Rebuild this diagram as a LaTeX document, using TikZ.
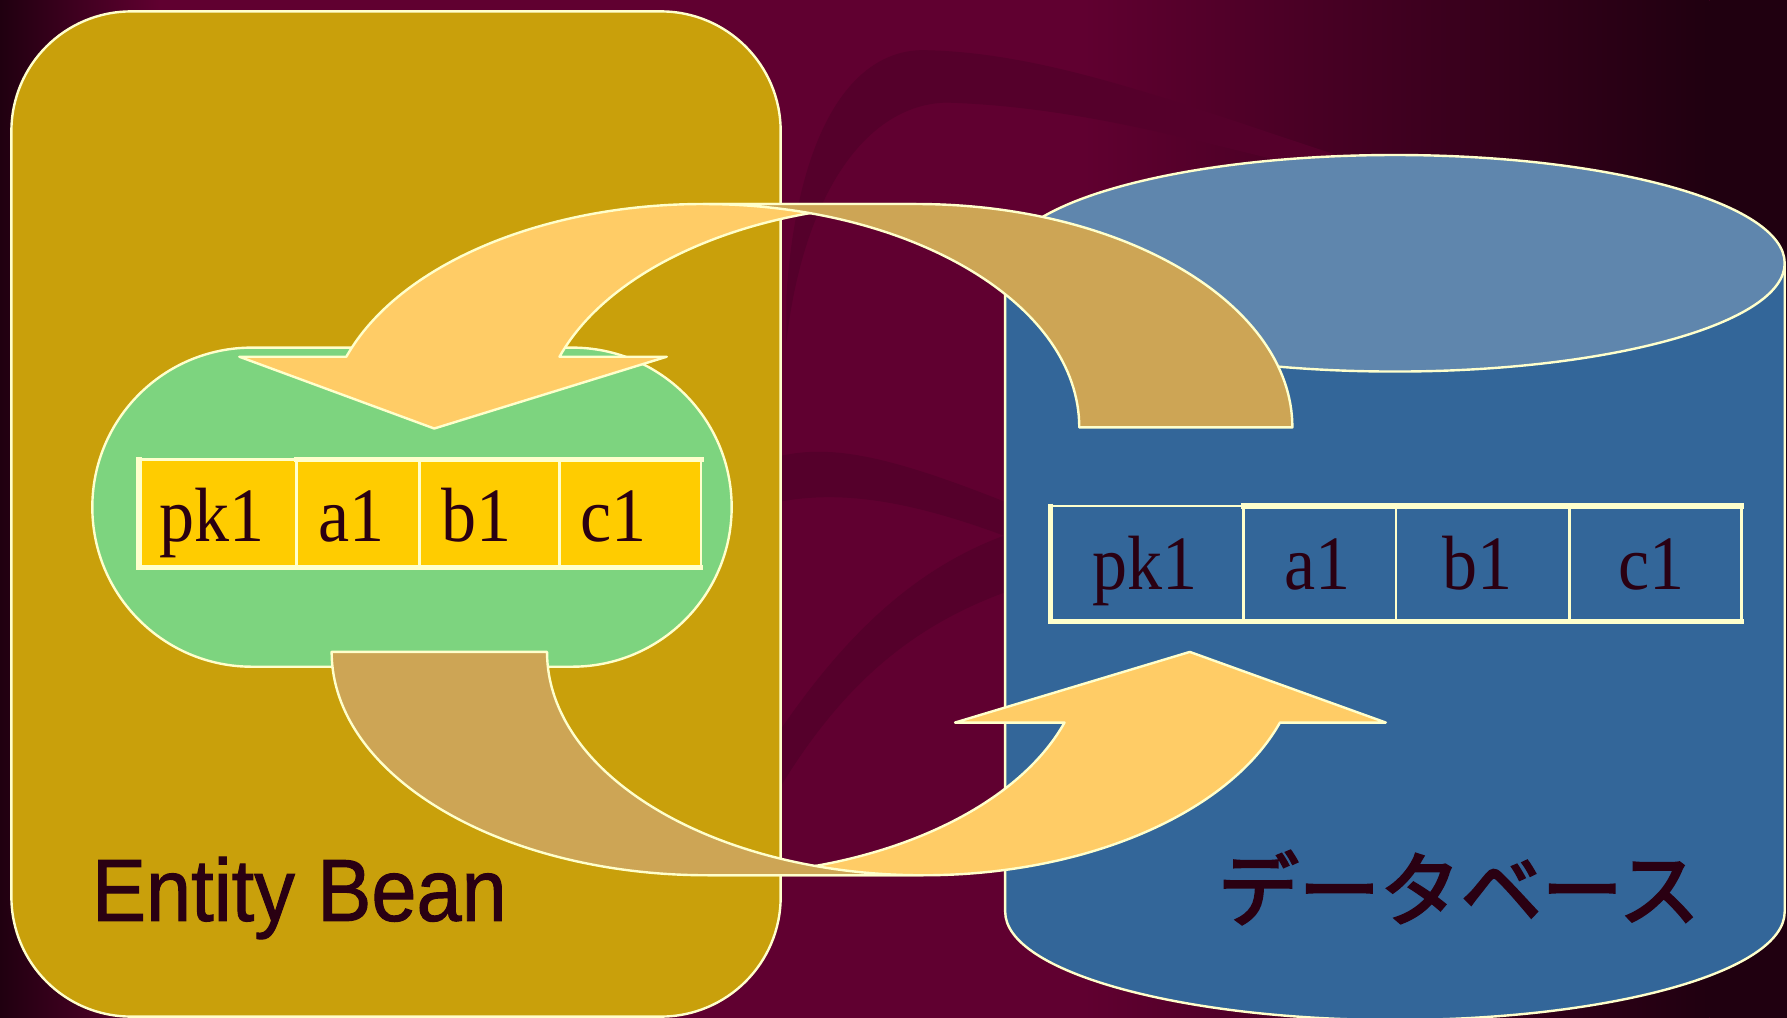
\documentclass[tikz,border=0pt]{standalone}
\usepackage{fontspec}
\usepackage{graphicx}
\setmainfont{Liberation Serif}
\newfontfamily\sansf[FakeBold=1.2]{Liberation Sans}
\newfontfamily\jpf[FakeBold=3]{Noto Sans CJK JP}
\definecolor{bgm}{HTML}{600030}
\definecolor{bgd}{HTML}{200010}
\definecolor{swoosh}{HTML}{55002B}
\definecolor{ebox}{HTML}{C9A00B}
\definecolor{grn}{HTML}{7DD47F}
\definecolor{cellfill}{HTML}{FFCC00}
\definecolor{arrowfront}{HTML}{FFCC66}
\definecolor{arrowback}{HTML}{CDA555}
\definecolor{cylbody}{HTML}{336699}
\definecolor{cyltop}{HTML}{5F86AD}
\definecolor{ink}{HTML}{2A0012}
\definecolor{edgec}{HTML}{FFFFCC}
\tikzset{
  outl/.style={draw=edgec, line width=0.6pt, line join=round},
  thinln/.style={draw=edgec, line width=0.6pt},
  thickln/.style={draw=edgec, line width=1.3pt},
  celltxt/.style={text=ink, inner sep=0pt},
  arcdim/.style={x radius=330, y radius=196}
}
\newcommand{\celltext}[1]{\fontsize{19.2}{21}\selectfont\scalebox{0.91}[1]{#1}}
\begin{document}
\begin{tikzpicture}[x=0.01cm, y=-0.01cm]
\useasboundingbox (0,0) rectangle (1568,893);
% background
\fill[bgm] (0,0) rectangle (1568,893);
\shade[left color=bgd, right color=bgm] (0,0) rectangle (140,893);
\shade[left color=bgm, right color=bgd] (950,0) rectangle (1500,893);
\fill[bgd] (1500,0) rectangle (1568,893);
% background swooshes
\fill[swoosh] (690,260) .. controls (700,110) and (750,44) .. (810,44)
  .. controls (940,46) and (1080,110) .. (1250,160) -- (1300,175)
  .. controls (1150,160) and (1000,95) .. (830,90)
  .. controls (760,92) and (705,170) .. (690,300) -- cycle;
\fill[swoosh] (685,400) .. controls (730,390) and (780,400) .. (881,440) -- (881,470)
  .. controls (800,440) and (740,430) .. (685,440) -- cycle;
\fill[swoosh] (685,640) .. controls (740,560) and (800,500) .. (881,470) -- (881,520)
  .. controls (800,550) and (740,600) .. (685,690) -- cycle;
% Entity Bean box
\draw[outl, fill=ebox, rounded corners=1.05cm] (10,10) rectangle (685,892);
% database cylinder
\draw[outl, fill=cylbody] (882,231) -- (882,800)
  arc[start angle=180, end angle=0, x radius=342, y radius=95] -- (1566,231) -- cycle;
\draw[outl, fill=cyltop] (1224,231) ellipse [x radius=342, y radius=95];
% green stadium
\draw[outl, fill=grn] (221,305) -- (502,305) arc[start angle=-90, end angle=90, radius=140]
  -- (221,585) arc[start angle=90, end angle=270, radius=140] -- cycle;
% left table
\fill[cellfill] (122,403) rectangle (615,498);
\draw[thinln] (122,403) rectangle (615,498);
\draw[thinln] (260,403) -- (260,498) (368,403) -- (368,498) (491,403) -- (491,498);
\draw[thickln] (258,403) -- (618,403) (120,498) -- (617,498) (122,401) -- (122,500);
\node[celltxt, anchor=base west] (lpk) at (139,475) {\celltext{pk1}};
\node[celltxt, anchor=base west] (la) at (279,475) {\celltext{a1}};
\node[celltxt, anchor=base west] (lb) at (387,475) {\celltext{b1}};
\node[celltxt, anchor=base west] (lc) at (509,475) {\celltext{c1}};
% right table
\draw[thinln] (922,444) rectangle (1528,545);
\draw[thinln] (1091,444) -- (1091,545) (1225,444) -- (1225,545) (1377,444) -- (1377,545);
\draw[thickln] (1089,444) -- (1530,444) (920,545) -- (1530,545) (922,442) -- (922,547);
\node[celltxt, anchor=base] (rpk) at (1005,517) {\celltext{pk1}};
\node[celltxt, anchor=base] (ra) at (1156,517) {\celltext{a1}};
\node[celltxt, anchor=base] (rb) at (1296,517) {\celltext{b1}};
\node[celltxt, anchor=base] (rc) at (1449,517) {\celltext{c1}};
% upper curved arrow (database -> bean)
\draw[outl, fill=arrowfront] (303.9,313) arc[start angle=198.44, end angle=270, arcdim]
  -- (804,179) arc[start angle=270, end angle=198.44, arcdim]
  -- (585,313) -- (381,376) -- (210,313) -- cycle;
\draw[outl, fill=arrowback] (617,179) -- (804,179) arc[start angle=270, end angle=360, arcdim]
  -- (947,375) arc[start angle=0, end angle=-90, arcdim] -- cycle;
% lower curved arrow (bean -> database)
\draw[outl, fill=arrowfront] (621,768) arc[start angle=90, end angle=18.44, arcdim]
  -- (838,634) -- (1044,572) -- (1216,634)
  -- (1123.1,634) arc[start angle=18.44, end angle=90, arcdim] -- cycle;
\draw[outl, fill=arrowback] (291,572) arc[start angle=180, end angle=90, arcdim]
  -- (810,768) arc[start angle=90, end angle=180, arcdim] -- cycle;
% labels
\node[anchor=base west, inner sep=0pt, text=ink] (ebl) at (80,808)
  {\sansf\fontsize{22}{26}\selectfont\scalebox{0.92}[1]{Entity Bean}};
\node[anchor=base west, inner sep=0pt, text=ink] (dbl) at (1068,807)
  {\jpf\fontsize{20.2}{24}\selectfont データベース};
\end{tikzpicture}
\end{document}
